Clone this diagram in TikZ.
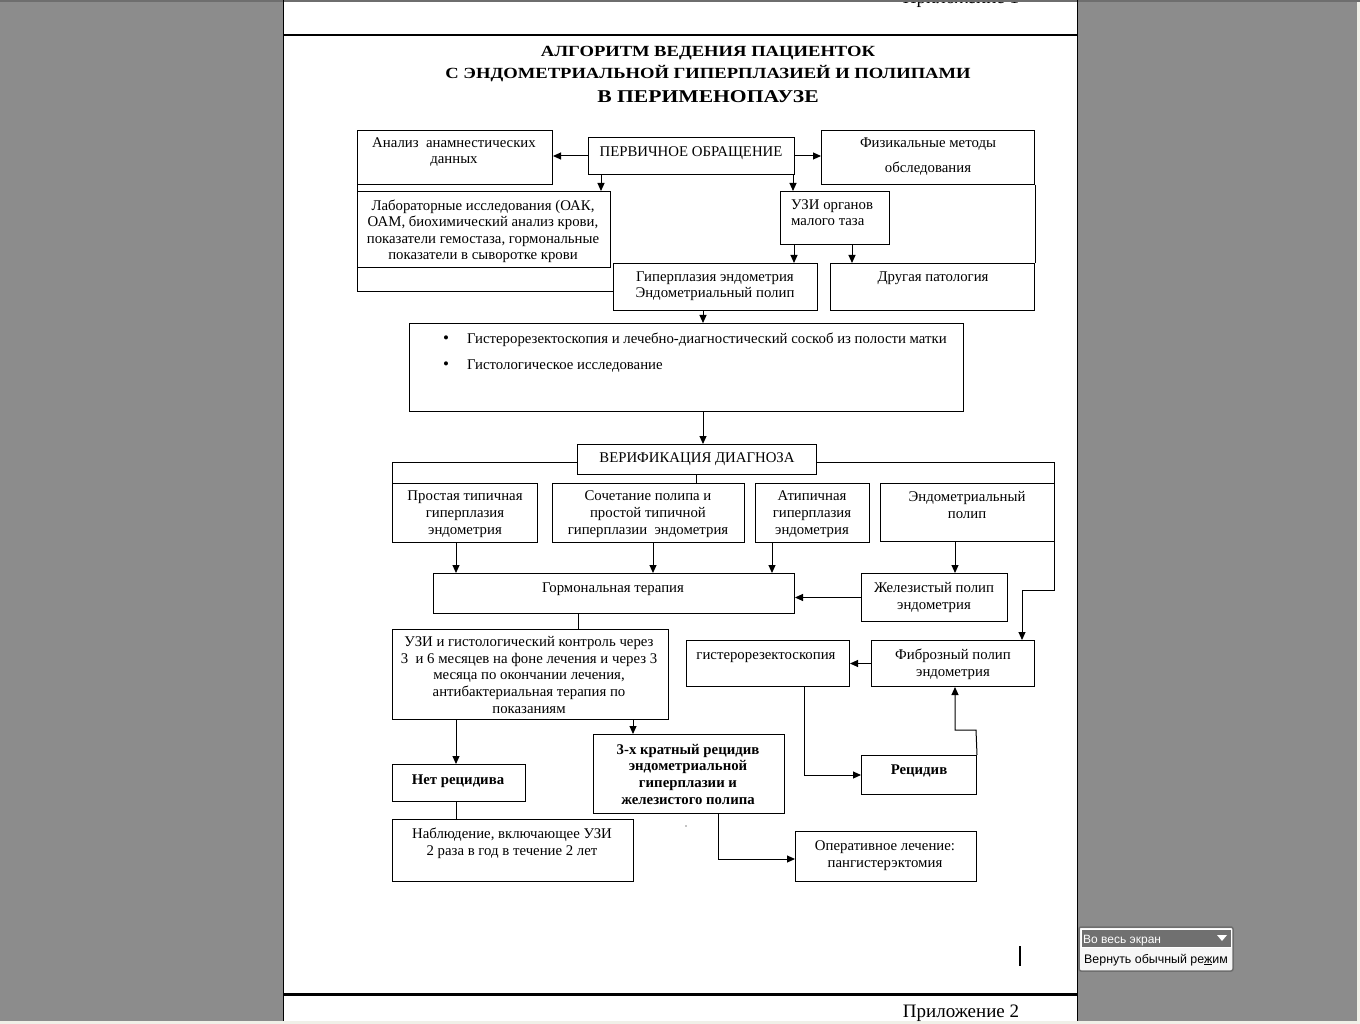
\documentclass[tikz,border=0pt]{standalone}
\usepackage{fontspec}
\setmainfont{Liberation Serif}
\newfontfamily\uifont{Liberation Sans}
\newfontfamily\titlefont[FakeStretch=1.2]{Liberation Serif}
\usetikzlibrary{arrows.meta}
\definecolor{bggray}{RGB}{140,140,140}
\definecolor{edgegray}{RGB}{110,110,110}
\definecolor{lightstrip}{RGB}{240,240,232}
\definecolor{uidark}{RGB}{112,112,112}
\newcommand\fs{\fontsize{14.8}{16.6}\selectfont}
\newcommand\mybox[5]{\node[box, minimum width={#4-#2}, minimum height={#5-#3}, anchor=north west] (#1) at (#2,#3) {};}
% #3 = baseline of the LAST line
\newcommand\tx[4]{\node[txt, anchor=base] (#1) at (#2,#3) {#4};}
\begin{document}
\begin{tikzpicture}[x=1pt,y=-1pt,
  box/.style={draw=black, line width=1pt, inner sep=0pt, fill=none},
  txt/.style={inner sep=0pt, align=center, font=\fs},
  arr/.style={line width=1pt, -{Triangle[length=8pt,width=7pt]}},
  ln/.style={line width=1pt}]
\useasboundingbox (0,0) rectangle (1360,1024);
% background
\fill[bggray] (0,0) rectangle (1360,1024);
\fill[lightstrip] (1357,0) rectangle (1360,1024);
\fill[white] (283,0) rectangle (1077,1021);
\fill[lightstrip] (0,1021) rectangle (1360,1024);
\node[anchor=base, inner sep=0pt, font=\fontsize{19}{21}\selectfont] (pril1) at (961,4) {Приложение 1};
\fill[edgegray] (0,0) rectangle (1360,2);
\draw[line width=1pt] (283,0) -- (283,1021);
\draw[line width=1pt] (1077,0) -- (1077,1021);
\draw[line width=2pt] (283,35) -- (1077,35);
\draw[line width=3pt] (283,994) -- (1077,994);
\node[anchor=base, inner sep=0pt, font=\fontsize{19}{21}\selectfont] (pril2) at (961,1017) {Приложение 2};
\draw[line width=1.5pt] (1020,946) -- (1020,966);
% title
\node[anchor=base, inner sep=0pt, font=\titlefont\bfseries\fontsize{15.5}{18}\selectfont] (t1) at (708,57) {АЛГОРИТМ ВЕДЕНИЯ ПАЦИЕНТОК};
\node[anchor=base, inner sep=0pt, font=\titlefont\bfseries\fontsize{15.5}{18}\selectfont] (t2) at (708,79) {С ЭНДОМЕТРИАЛЬНОЙ ГИПЕРПЛАЗИЕЙ И ПОЛИПАМИ};
\node[anchor=base, inner sep=0pt, font=\titlefont\bfseries\fontsize{18}{20}\selectfont] (t3) at (708,103) {В ПЕРИМЕНОПАУЗЕ};
% boxes
\mybox{anam}{357}{130}{552}{184}
\mybox{perv}{588}{137}{794}{174}
\mybox{fiz}{821}{130}{1034}{184}
\mybox{lab}{357}{191}{610}{267}
\mybox{uzi}{780}{191}{889}{244}
\mybox{giper}{613}{263}{817}{310}
\mybox{drug}{830}{263}{1034}{310}
\mybox{big}{409}{323}{963}{411}
\mybox{verif}{577}{444}{816}{474}
\mybox{prost}{392}{483}{537}{542}
\mybox{soch}{552}{483}{744}{542}
\mybox{atip}{755}{483}{869}{542}
\mybox{endo}{880}{483}{1054}{541}
\mybox{gorm}{433}{573}{794}{613}
\mybox{zhel}{861}{573}{1007}{621}
\mybox{uzk}{392}{629}{668}{719}
\mybox{gist}{686}{640}{849}{686}
\mybox{fib}{871}{640}{1034}{686}
\mybox{tri}{593}{734}{784}{813}
\mybox{net}{392}{764}{525}{801}
\mybox{rec}{861}{755}{976}{794}
\mybox{nabl}{392}{819}{633}{881}
\mybox{oper}{795}{831}{976}{881}
% texts
\tx{anam-t}{454}{164}{Анализ\ \ анамнестических\\данных}
\tx{perv-t}{691}{157}{ПЕРВИЧНОЕ ОБРАЩЕНИЕ}
\node[txt, anchor=base, font=\fontsize{14.8}{25}\selectfont] (fiz-t) at (928,173) {Физикальные методы\\обследования};
\tx{lab-t}{483}{260}{Лабораторные исследования (ОАК,\\ОАМ, биохимический анализ крови,\\показатели гемостаза, гормональные\\показатели в сыворотке крови}
\node[txt, anchor=base west, align=left] (uzi-t) at (791,226) {УЗИ органов\\малого таза};
\tx{giper-t}{715}{298}{Гиперплазия эндометрия\\Эндометриальный полип}
\tx{drug-t}{933}{282}{Другая патология}
\node[txt, anchor=base, font=\fontsize{17}{17}\selectfont] (b1) at (446,343) {•};
\node[txt, anchor=base west] (big-t1) at (467,343) {Гистерорезектоскопия и лечебно-диагностический соскоб из полости матки};
\node[txt, anchor=base, font=\fontsize{17}{17}\selectfont] (b2) at (446,369) {•};
\node[txt, anchor=base west] (big-t2) at (467,369) {Гистологическое исследование};
\tx{verif-t}{697}{462}{ВЕРИФИКАЦИЯ ДИАГНОЗА}
\tx{prost-t}{465}{534}{Простая типичная\\гиперплазия\\эндометрия}
\tx{soch-t}{648}{534}{Сочетание полипа и\\простой типичной\\гиперплазии\ \ эндометрия}
\tx{atip-t}{812}{534}{Атипичная\\гиперплазия\\эндометрия}
\tx{endo-t}{967}{518}{Эндометриальный\\полип}
\tx{gorm-t}{613}{592}{Гормональная терапия}
\tx{zhel-t}{934}{609}{Железистый полип\\эндометрия}
\tx{uzk-t}{529}{713}{УЗИ и гистологический контроль через\\3\ \ и 6 месяцев на фоне лечения и через 3\\месяца по окончании лечения,\\антибактериальная терапия по\\показаниям}
\tx{gist-t}{766}{659}{гистерорезектоскопия}
\tx{fib-t}{953}{676}{Фиброзный полип\\эндометрия}
\tx{tri-t}{688}{804}{\bfseries 3-х кратный рецидив\\\bfseries эндометриальной\\\bfseries гиперплазии и\\\bfseries железистого полипа}
\tx{net-t}{458}{784}{\bfseries Нет рецидива}
\tx{rec-t}{919}{774}{\bfseries Рецидив}
\tx{nabl-t}{512}{855}{Наблюдение, включающее УЗИ\\2 раза в год в течение 2 лет}
\tx{oper-t}{885}{867}{Оперативное лечение:\\пангистерэктомия}
\fill (686,826) circle (0.6pt);
% connectors
\draw[arr] (perv.west) -- (perv.west -| anam.east);
\draw[arr] (perv.east) -- (perv.east -| fiz.west);
\draw[arr] (perv.south -| 601,0) -- (lab.north -| 601,0);
\draw[arr] (perv.south -| 793,0) -- (uzi.north -| 793,0);
\draw[arr] (uzi.south -| 794,0) -- (giper.north -| 794,0);
\draw[arr] (uzi.south -| 852,0) -- (drug.north -| 852,0);
\draw[ln] (fiz.south east) -- (drug.north east);
\draw[ln] (anam.south west) -- (lab.north west);
\draw[ln] (lab.south west) |- (giper.west |- 0,292);
\draw[arr] (giper.south -| 703,0) -- (big.north -| 703,0);
\draw[arr] (big.south -| 703,0) -- (verif.north -| 703,0);
\draw[ln] (verif.west |- 0,462) -| (prost.north west);
\draw[arr] (verif.east |- 0,462) -| (1054,590) -| (fib.north -| 1022,0);
\draw[ln] (verif.south -| 696,0) -- (soch.north -| 696,0);
\draw[arr] (prost.south -| 456,0) -- (gorm.north -| 456,0);
\draw[arr] (soch.south -| 653,0) -- (gorm.north -| 653,0);
\draw[arr] (atip.south -| 772,0) -- (gorm.north -| 772,0);
\draw[arr] (endo.south -| 955,0) -- (zhel.north -| 955,0);
\draw[arr] (zhel.west) -- (zhel.west -| gorm.east);
\draw[ln] (gorm.south -| 578,0) -- (uzk.north -| 578,0);
\draw[arr] (uzk.south -| 456,0) -- (net.north -| 456,0);
\draw[arr] (uzk.south -| 633,0) -- (tri.north -| 633,0);
\draw[ln] (net.south -| 456,0) -- (nabl.north -| 456,0);
\draw[arr] (fib.west) -- (fib.west -| gist.east);
\draw[arr] (gist.south -| 804,0) |- (rec.west);
\draw[arr] (rec.north east) -- (976,730) -| (fib.south -| 955,0);
\draw[arr] (tri.south -| 718,0) |- (oper.west |- 0,859);
% UI widget
\fill[rounded corners=2pt, fill={rgb,255:red,246;green,246;blue,246}, draw=edgegray, line width=1.5pt] (1079,927) rectangle (1233,971);
\fill[uidark, draw=white, line width=0.8pt] (1081,929) rectangle (1231,947);
\node[anchor=base west, inner sep=0pt, text=white, font=\uifont\fontsize{12}{14}\selectfont] (ui1) at (1083,943) {Во весь экран};
\fill[white] (1217,935) -- (1227,935) -- (1222,941) -- cycle;
\node[anchor=base west, inner sep=0pt, font=\uifont\fontsize{12.4}{14}\selectfont] (ui2) at (1084,963) {Вернуть обычный ре\underline{ж}им};
\end{tikzpicture}
\end{document}
